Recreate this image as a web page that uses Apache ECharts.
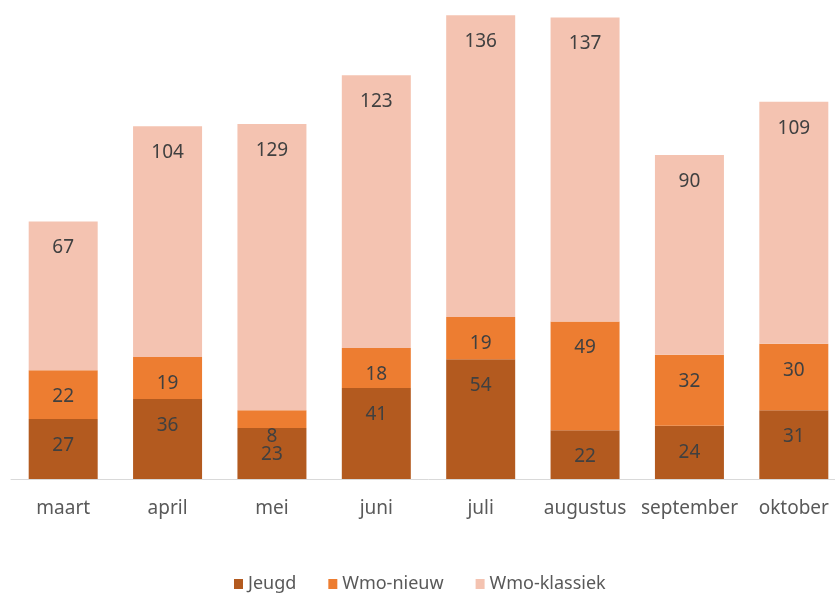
<!DOCTYPE html>
<html>
<head>
<meta charset="utf-8">
<script src="https://cdn.jsdelivr.net/npm/echarts@6/dist/echarts.min.js"></script>
<style>
  html, body { margin: 0; padding: 0; background: #ffffff; overflow: hidden; }
  /* the plot runs a little past the right edge of the page */
  #chart { width: 846px; height: 594px; }
</style>
</head>
<body>
<div id="chart"></div>
<script>
// Monthly counts per regeling
const months = ['maart', 'april', 'mei', 'juni', 'juli', 'augustus', 'september', 'oktober'];
const jeugd = [27, 36, 23, 41, 54, 22, 24, 31];
const wmoNieuw = [22, 19, 8, 18, 19, 49, 32, 30];
const wmoKlassiek = [67, 104, 129, 123, 136, 137, 90, 109];

const FONT = '"Noto Sans", sans-serif';

function segment(name, values, color) {
  return {
    name: name,
    type: 'bar',
    stack: 'total',
    barWidth: 69,
    data: values,
    itemStyle: { color: color },
    label: {
      show: true,
      position: 'insideTop',
      distance: 17,
      color: '#404040',
      fontFamily: FONT,
      fontSize: 19
    }
  };
}

const chart = echarts.init(document.getElementById('chart'));
chart.setOption({
  animation: false,
  backgroundColor: '#ffffff',
  grid: { left: 11, top: 13, right: 0, bottom: 115, containLabel: false },
  xAxis: {
    type: 'category',
    data: months,
    axisTick: { show: false },
    axisLine: { show: true, lineStyle: { color: '#d9d9d9', width: 1 } },
    axisLabel: { interval: 0, color: '#595959', fontFamily: FONT, fontSize: 19, margin: 20 }
  },
  yAxis: {
    type: 'value',
    min: 0,
    max: 210,
    show: false,
    splitLine: { show: false }
  },
  legend: {
    bottom: -4,
    left: 229,
    itemWidth: 9,
    itemHeight: 10,
    itemGap: 32,
    icon: 'rect',
    textStyle: { color: '#595959', fontFamily: FONT, fontSize: 18 },
    data: ['Jeugd', 'Wmo-nieuw', 'Wmo-klassiek']
  },
  series: [
    segment('Jeugd', jeugd, '#b35a1f'),
    segment('Wmo-nieuw', wmoNieuw, '#ed7d31'),
    segment('Wmo-klassiek', wmoKlassiek, '#f4c3b1')
  ]
});
</script>
</body>
</html>
